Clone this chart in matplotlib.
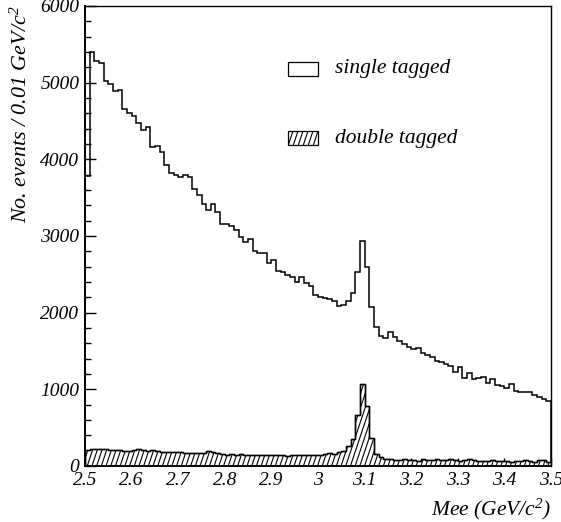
import numpy as np
import matplotlib
matplotlib.use("Agg")
import matplotlib.pyplot as plt
from matplotlib.patches import Rectangle
from matplotlib.collections import LineCollection
from matplotlib.ticker import MultipleLocator

# ---- data (bin edges 2.50 .. 3.50, width 0.01 GeV/c^2) ----
x_min, x_max, bin_w = 2.5, 3.5, 0.01

single_tagged = [
    3780, 5400, 5285, 5258, 5020, 4980, 4890, 4900, 4660, 4610,
    4560, 4476, 4380, 4424, 4163, 4176, 4090, 3928, 3824, 3790,
    3772, 3794, 3764, 3611, 3533, 3420, 3342, 3412, 3308, 3159,
    3151, 3129, 3077, 2990, 2925, 2960, 2803, 2781, 2781, 2651,
    2686, 2547, 2534, 2490, 2460, 2399, 2468, 2390, 2347, 2230,
    2200, 2186, 2173, 2151, 2086, 2099, 2155, 2251, 2525, 2935,
    2599, 2077, 1808, 1695, 1665, 1743, 1686, 1634, 1591, 1556,
    1530, 1538, 1478, 1447, 1417, 1369, 1352, 1330, 1308, 1230,
    1287, 1151, 1216, 1138, 1143, 1156, 1078, 1130, 1052, 1043,
    1017, 1069, 982, 965, 961, 969, 921, 904, 869, 851,
]

double_tagged = [
    215, 228, 225, 222, 218, 212, 205, 210, 200, 195,
    215, 220, 205, 198, 210, 190, 185, 188, 180, 178,
    182, 175, 170, 176, 168, 172, 200, 180, 165, 160,
    150, 158, 148, 152, 145, 140, 150, 138, 145, 142,
    148, 140, 150, 135, 145, 140, 138, 150, 145, 148,
    143, 156, 173, 156, 178, 196, 265, 352, 665, 1065,
    782, 361, 152, 117, 91, 85, 80, 78, 92, 75,
    80, 70, 85, 78, 82, 95, 80, 72, 88, 76,
    70, 82, 95, 72, 65, 70, 60, 78, 65, 62,
    70, 55, 68, 62, 75, 70, 58, 80, 72, 55,
]

x_ticks = [2.5, 2.6, 2.7, 2.8, 2.9, 3.0, 3.1, 3.2, 3.3, 3.4, 3.5]
x_tick_labels = ["2.5", "2.6", "2.7", "2.8", "2.9", "3", "3.1", "3.2", "3.3", "3.4", "3.5"]
y_ticks = [0, 1000, 2000, 3000, 4000, 5000, 6000]
y_tick_labels = ["0", "1000", "2000", "3000", "4000", "5000", "6000"]
legend_labels = ["single tagged", "double tagged"]

# ---- style ----
serif = "Liberation Serif"
plt.rcParams["font.family"] = serif
plt.rcParams["font.style"] = "italic"
plt.rcParams["mathtext.fontset"] = "custom"
plt.rcParams["mathtext.rm"] = "Liberation Serif:italic"
plt.rcParams["mathtext.it"] = "Liberation Serif:italic"

W, H = 561, 522
ax_l, ax_r, ax_t, ax_b = 85, 551, 6, 466
fig = plt.figure(figsize=(W / 100, H / 100), dpi=100)
ax = fig.add_axes([ax_l / W, 1 - ax_b / H, (ax_r - ax_l) / W, (ax_b - ax_t) / H])

edges = np.round(np.arange(x_min, x_max + bin_w / 2, bin_w), 4)

ax.stairs(single_tagged, edges, fill=False, color="black", linewidth=1.1, baseline=0)
dpatch = ax.stairs(double_tagged, edges, fill=True, facecolor="white",
                   edgecolor="black", linewidth=1.0, zorder=2)

ax.set_xlim(x_min, x_max)
ax.set_ylim(0, 6000)


def steep_hatch(x0, x1, y0, y1, px_per_x, px_per_y, spacing_px=4.7, slope=3.0):
    """Hatch lines (lower-left to upper-right, steep) in given coordinate system."""
    height_px = (y1 - y0) * px_per_y
    shift = height_px / slope / px_per_x
    step = spacing_px / px_per_x
    starts = np.arange(x0 - shift, x1 + step, step)
    return [[(s, y0), (s + shift, y1)] for s in starts]


# hatch for the double-tagged histogram, clipped to its shape
px_x = (ax_r - ax_l) / (x_max - x_min)
px_y = (ax_b - ax_t) / 6000.0
segs = steep_hatch(x_min, x_max, 0, 1200, px_x, px_y, spacing_px=4.7, slope=3.0)
lc = LineCollection(segs, colors="black", linewidths=0.8, zorder=3)
ax.add_collection(lc)
lc.set_clip_path(dpatch)
# outline on top
ax.stairs(double_tagged, edges, fill=False, color="black", linewidth=1.0, zorder=4)

ax.set_xticks(x_ticks)
ax.set_xticklabels(x_tick_labels)
ax.set_yticks(y_ticks)
ax.set_yticklabels(y_tick_labels)
ax.yaxis.set_minor_locator(MultipleLocator(200))

ax.tick_params(axis="both", which="major", direction="in", labelsize=14,
               length=8, width=1.0)
ax.tick_params(axis="x", which="major", length=6, pad=4)
ax.tick_params(axis="y", which="major", pad=4)
ax.tick_params(axis="y", which="minor", direction="in", length=4.5, width=1.0)
ax.tick_params(axis="x", which="minor", bottom=False)

for side in ["left", "bottom"]:
    ax.spines[side].set_linewidth(1.4)
for side in ["top", "right"]:
    ax.spines[side].set_linewidth(1.0)

ax.set_ylabel("No. events / 0.01 GeV/c$^2$", fontsize=15.8, loc="top", labelpad=6)
ax.set_xlabel("Mee (GeV/c$^2$)", fontsize=15.5, loc="right", labelpad=6)

# ---- legend drawn as boxes + text (axes coordinates) ----
aw, ah = ax_r - ax_l, ax_b - ax_t
box_x0, box_w = (288 - ax_l) / aw, 30 / aw
box_h = 14 / ah
rows_y = [(ax_b - 76) / ah, (ax_b - 145) / ah]
text_x = (335 - ax_l) / aw
for i, (label, yb) in enumerate(zip(legend_labels, rows_y)):
    rect = Rectangle((box_x0, yb), box_w, box_h, transform=ax.transAxes,
                     facecolor="white", edgecolor="black", linewidth=0.9, zorder=5)
    ax.add_patch(rect)
    if i == 1:
        lsegs = steep_hatch(box_x0, box_x0 + box_w, yb, yb + box_h,
                            aw, ah, spacing_px=5.0, slope=3.0)
        llc = LineCollection(lsegs, colors="black", linewidths=0.8,
                             transform=ax.transAxes, zorder=6)
        ax.add_collection(llc)
        llc.set_clip_path(rect)
    ax.text(text_x, yb + box_h / 2, label, transform=ax.transAxes,
            fontsize=15.5, va="center", ha="left")

fig.savefig("out.png", dpi=100)
